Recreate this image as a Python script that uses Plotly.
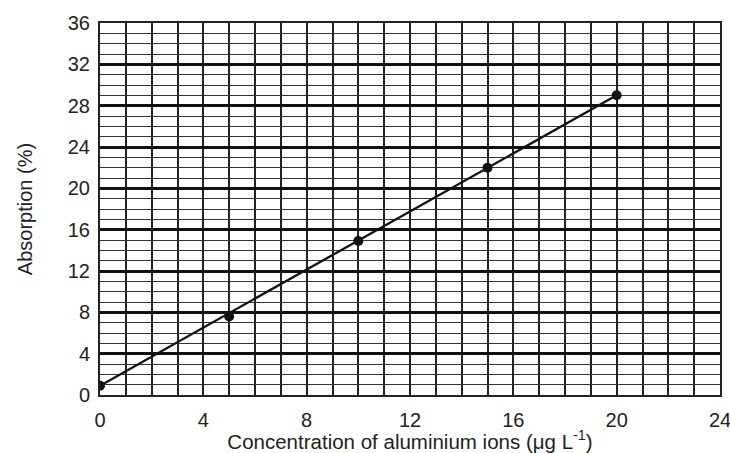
import plotly.graph_objects as go

conc = [0, 5, 10, 15, 20]
absorption = [0.9, 7.6, 14.9, 22.0, 29.0]
fit_x = [0, 20]
fit_y = [0.9, 29.0]
x_ticks = [0, 4, 8, 12, 16, 20, 24]
y_ticks = [0, 4, 8, 12, 16, 20, 24, 28, 32, 36]

fig = go.Figure()
fig.add_trace(go.Scatter(x=fit_x, y=fit_y, mode="lines",
                         line=dict(color="#111", width=2.3), showlegend=False))
fig.add_trace(go.Scatter(x=conc, y=absorption, mode="markers",
                         marker=dict(color="#111", size=10), showlegend=False))

font = "Liberation Sans, Arial, sans-serif"
fig.update_layout(
    width=730, height=453,
    margin=dict(l=100, r=10, t=23, b=58),
    paper_bgcolor="white", plot_bgcolor="white",
    font=dict(family=font, color="#222", size=20),
    xaxis=dict(range=[0, 24], tickvals=x_ticks, ticks="", showgrid=True,
               automargin=False, ticklabeloverflow="allow", ticklabelstandoff=6,
               gridcolor="#222", gridwidth=1.9,
               minor=dict(dtick=1, showgrid=True, gridcolor="#222", gridwidth=1.9),
               showline=True, linecolor="#222", linewidth=2, mirror=True,
               zeroline=False,
               title=dict(text="Concentration of aluminium ions (μg L<sup>-1</sup>)",
                          font=dict(size=20.5), standoff=0)),
    yaxis=dict(range=[0, 36], tickvals=y_ticks, ticks="", showgrid=True,
               automargin=False, ticklabeloverflow="allow", ticklabelstandoff=4,
               gridcolor="#111", gridwidth=2.8,
               minor=dict(dtick=1, showgrid=True, gridcolor="#333", gridwidth=1.4),
               showline=True, linecolor="#222", linewidth=2, mirror=True,
               zeroline=False,
               title=dict(text="Absorption (%)", font=dict(size=20), standoff=30)),
)
fig.write_html("out.html", config={"displayModeBar": False},
               post_script="document.body.style.margin='0';")
